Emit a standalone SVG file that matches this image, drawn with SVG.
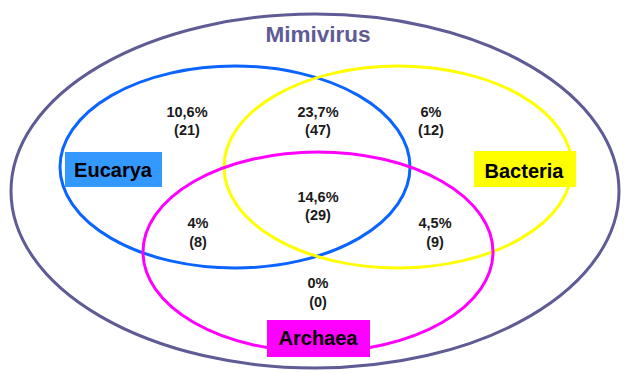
<svg xmlns="http://www.w3.org/2000/svg" width="624" height="374" viewBox="0 0 624 374">
<style>
.ring{fill:none;stroke-width:3}
.num{font-family:"Liberation Sans",Arial,sans-serif;font-weight:bold;font-size:14.5px;fill:#1a1a1a;text-anchor:middle}
.lab{font-family:"Liberation Sans",Arial,sans-serif;font-weight:bold;font-size:20px;fill:#000;text-anchor:middle}
</style>
<rect width="624" height="374" fill="#ffffff"/>
<g id="mimivirus">
<ellipse class="ring" cx="315" cy="191" rx="304" ry="177" stroke="#5e5b95"/>
<text x="318" y="42" font-family="Liberation Sans, Arial, sans-serif" font-weight="bold" font-size="22.5" fill="#5e5b95" text-anchor="middle">Mimivirus</text>
</g>
<g id="eucarya-set">
<ellipse class="ring" cx="235" cy="167" rx="175" ry="101" stroke="#0a64ff"/>
</g>
<g id="bacteria-set">
<ellipse class="ring" cx="398" cy="167" rx="174" ry="101" stroke="#ffff00"/>
</g>
<g id="archaea-set">
<ellipse class="ring" cx="318" cy="252" rx="175" ry="100" stroke="#ff00ff"/>
</g>
<g id="eucarya">
<rect x="65" y="152" width="97" height="35" fill="#3399ff"/>
<text class="lab" x="113" y="177">Eucarya</text>
</g>
<g id="bacteria">
<rect x="474" y="151" width="102" height="36" fill="#ffff00"/>
<text class="lab" x="524" y="178">Bacteria</text>
</g>
<g id="archaea">
<rect x="267" y="320" width="103" height="37" fill="#ff00ff"/>
<text class="lab" x="318" y="345">Archaea</text>
</g>
<g id="counts">
<text class="num" x="187" y="117">10,6%</text>
<text class="num" x="187" y="135">(21)</text>
<text class="num" x="318" y="117">23,7%</text>
<text class="num" x="318" y="135">(47)</text>
<text class="num" x="431" y="117">6%</text>
<text class="num" x="431" y="135">(12)</text>
<text class="num" x="318" y="202">14,6%</text>
<text class="num" x="318" y="220">(29)</text>
<text class="num" x="198" y="228">4%</text>
<text class="num" x="198" y="247">(8)</text>
<text class="num" x="435" y="228">4,5%</text>
<text class="num" x="435" y="247">(9)</text>
<text class="num" x="318" y="288">0%</text>
<text class="num" x="318" y="307">(0)</text>
</g>
</svg>
